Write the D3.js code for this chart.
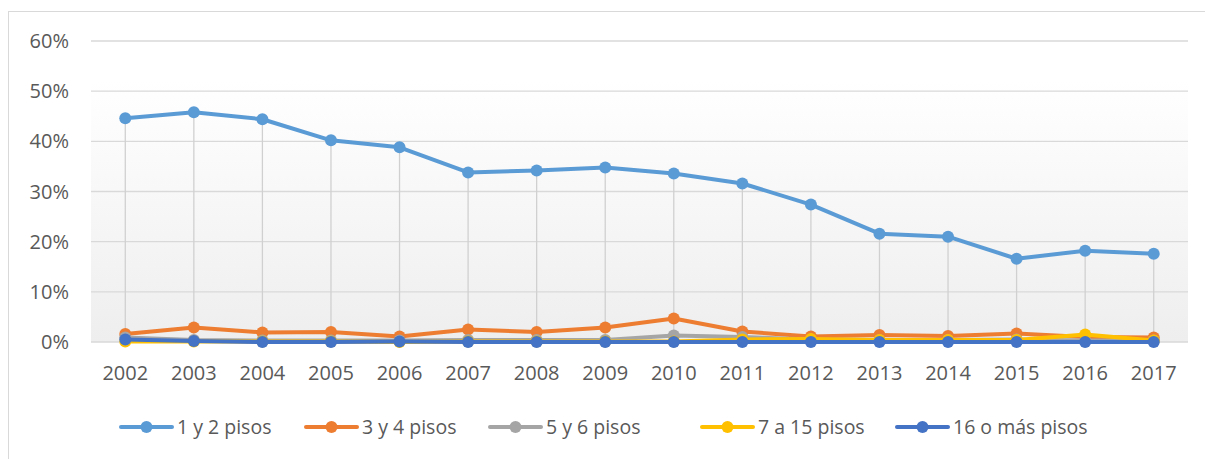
<!DOCTYPE html>
<html>
<head>
<meta charset="utf-8">
<script src="https://cdn.jsdelivr.net/npm/d3@7"></script>
<style>
  body { margin: 0; background: #fff; }
  text { font-family: "Open Sans", "Noto Sans", sans-serif; fill: #595959; }
</style>
</head>
<body>
<div id="chart"></div>
<script>
var years = ["2002","2003","2004","2005","2006","2007","2008","2009","2010","2011","2012","2013","2014","2015","2016","2017"];
var seriesNames = ["1 y 2 pisos", "3 y 4 pisos", "5 y 6 pisos", "7 a 15 pisos", "16 o más pisos"];
var seriesColors = ["#5b9bd5", "#ed7d31", "#a5a5a5", "#ffc000", "#4472c4"];
var pisos12 = [44.6, 45.8, 44.4, 40.2, 38.8, 33.8, 34.2, 34.8, 33.6, 31.6, 27.4, 21.6, 21.0, 16.6, 18.2, 17.6];
var pisos34 = [1.6, 2.9, 1.9, 2.0, 1.1, 2.5, 2.0, 2.9, 4.7, 2.1, 1.1, 1.4, 1.2, 1.7, 1.0, 0.9];
var pisos56 = [0.9, 0.4, 0.3, 0.3, 0.3, 0.4, 0.4, 0.4, 1.3, 1.0, 0.5, 0.4, 0.4, 0.5, 0.3, 0.3];
var pisos715 = [0.1, 0.1, 0.1, 0.1, 0.0, 0.1, 0.1, 0.1, 0.1, 0.5, 0.6, 0.4, 0.4, 0.4, 1.5, 0.3];
var pisos16 = [0.5, 0.2, 0.0, 0.0, 0.1, 0.0, 0.0, 0.0, 0.0, 0.0, 0.0, 0.0, 0.0, 0.0, 0.0, 0.0];
var yTicks = [0, 10, 20, 30, 40, 50, 60];

var allSeries = [pisos12, pisos34, pisos56, pisos715, pisos16];

var W = 1205, H = 459;
var svg = d3.select("#chart").append("svg")
    .attr("width", W)
    .attr("height", H);

// chart border
svg.append("rect")
    .attr("x", 8.5).attr("y", 11.5)
    .attr("width", 1210).attr("height", 460)
    .attr("fill", "none")
    .attr("stroke", "#d9d9d9");

var plotLeft = 91, plotRight = 1188, plotTop = 41, plotBottom = 342;

var x = d3.scaleBand().domain(years).range([plotLeft, plotRight]);
var y = d3.scaleLinear().domain([0, 60]).range([plotBottom, plotTop]);

// plot area background gradient
var defs = svg.append("defs");
var grad = defs.append("linearGradient")
    .attr("id", "bg").attr("x1", 0).attr("y1", 0).attr("x2", 0).attr("y2", 1);
grad.append("stop").attr("offset", "0%").attr("stop-color", "#ffffff");
grad.append("stop").attr("offset", "100%").attr("stop-color", "#eeeeee");

svg.append("rect")
    .attr("x", plotLeft).attr("y", y(52))
    .attr("width", plotRight - plotLeft).attr("height", plotBottom - y(52))
    .attr("fill", "url(#bg)");

// gridlines
svg.append("g")
    .selectAll("line")
    .data(yTicks)
    .enter().append("line")
    .attr("x1", plotLeft).attr("x2", plotRight)
    .attr("y1", function(d) { return y(d); })
    .attr("y2", function(d) { return y(d); })
    .attr("stroke", "#d9d9d9")
    .attr("stroke-width", 1.3);

// y labels
svg.append("g")
    .selectAll("text")
    .data(yTicks)
    .enter().append("text")
    .attr("x", 69)
    .attr("y", function(d) { return y(d) + 7; })
    .attr("text-anchor", "end")
    .style("font-size", "20px")
    .text(function(d) { return d + "%"; });

// x labels
svg.append("g")
    .selectAll("text")
    .data(years)
    .enter().append("text")
    .attr("x", function(d) { return x(d) + x.bandwidth() / 2; })
    .attr("y", 380)
    .attr("text-anchor", "middle")
    .style("font-size", "20px")
    .text(function(d) { return d; });

// drop lines
svg.append("g")
    .selectAll("line")
    .data(years)
    .enter().append("line")
    .attr("x1", function(d) { return x(d) + x.bandwidth() / 2; })
    .attr("x2", function(d) { return x(d) + x.bandwidth() / 2; })
    .attr("y1", function(d, i) { return y(d3.max(allSeries, function(s) { return s[i]; })); })
    .attr("y2", y(0))
    .attr("stroke", "#d0d0d0")
    .attr("stroke-width", 1.3);

var line = d3.line()
    .x(function(d, i) { return x(years[i]) + x.bandwidth() / 2; })
    .y(function(d) { return y(d); });

// draw series in order, later ones on top (like excel)
allSeries.forEach(function(s, k) {
    var g = svg.append("g");
    g.append("path")
        .datum(s)
        .attr("d", line)
        .attr("fill", "none")
        .attr("stroke", seriesColors[k])
        .attr("stroke-width", 4)
        .attr("stroke-linejoin", "round");
    g.selectAll("circle")
        .data(s)
        .enter().append("circle")
        .attr("cx", function(d, i) { return x(years[i]) + x.bandwidth() / 2; })
        .attr("cy", function(d) { return y(d); })
        .attr("r", 6)
        .attr("fill", seriesColors[k]);
});

// legend
var legendX = [121, 306, 490, 702, 897];
var legend = svg.append("g");
seriesNames.forEach(function(name, i) {
    var lg = legend.append("g").attr("transform", "translate(" + legendX[i] + ",427)");
    lg.append("line")
        .attr("x1", 0).attr("x2", 51)
        .attr("stroke", seriesColors[i])
        .attr("stroke-width", 4)
        .attr("stroke-linecap", "round");
    lg.append("circle")
        .attr("cx", 25.5).attr("r", 6)
        .attr("fill", seriesColors[i]);
    lg.append("text")
        .attr("x", 56).attr("y", 7)
        .style("font-size", "19.5px")
        .text(name);
});
</script>
</body>
</html>
